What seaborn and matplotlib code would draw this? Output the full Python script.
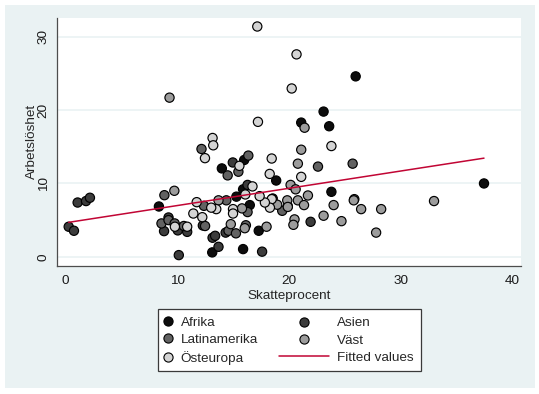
import matplotlib
matplotlib.use("Agg")
import matplotlib.pyplot as plt
from matplotlib.patches import Rectangle
from matplotlib.lines import Line2D
import seaborn as sns
import pandas as pd

# ---------------- data ----------------
afrika_x = [25.97, 23.1, 21.1, 23.6, 14.0, 18.86, 37.45, 15.9, 23.8, 18.55, 15.3, 16.5,
            8.37, 13.14, 15.9, 17.3, 19.9, 16.0]
afrika_y = [24.6, 19.8, 18.3, 17.8, 12.05, 10.4, 10.0, 9.2, 8.86, 7.95, 8.2, 7.05,
            6.86, 0.6, 1.05, 3.55, 6.9, 13.2]

asien_x = [0.3, 0.77, 1.1, 1.85, 2.2, 16.3, 21.94, 12.3, 9.23, 8.83, 10.06, 10.9,
           10.15, 13.17, 13.4, 13.7, 14.34, 17.6, 14.98]
asien_y = [4.1, 3.55, 7.4, 7.6, 8.05, 9.8, 4.77, 4.27, 5.36, 3.5, 3.6, 3.4,
           0.23, 2.6, 2.86, 1.36, 3.3, 0.7, 12.86]

latin_x = [12.18, 14.52, 15.48, 16.37, 22.6, 25.7, 25.85, 8.86, 19.4, 16.3, 14.4,
           12.4, 12.5, 8.6, 9.23, 9.78, 10.6, 14.6, 15.26, 16.15]
latin_y = [14.7, 11.1, 11.6, 13.8, 12.3, 12.7, 7.86, 8.4, 6.27, 6.1, 7.7,
           6.95, 4.2, 4.55, 5.0, 4.55, 4.2, 3.55, 3.2, 4.3]

vast_x = [9.32, 21.4, 21.1, 20.8, 20.15, 20.6, 9.75, 21.7, 20.8, 19.85, 21.35, 24.0,
          25.8, 26.46, 28.25, 32.98, 27.8, 24.7, 23.1, 20.5, 20.4, 18.95, 15.8, 13.7,
          14.8, 16.05, 18.0, 19.9]
vast_y = [21.7, 17.6, 14.6, 12.7, 9.8, 9.2, 9.0, 8.36, 7.7, 7.7, 7.05, 7.05,
          7.7, 6.5, 6.5, 7.6, 3.3, 4.86, 5.6, 5.1, 4.36, 7.1, 6.6, 7.7,
          4.45, 3.9, 4.1, 6.8]

ost_x = [17.17, 20.68, 20.25, 17.23, 13.17, 13.23, 23.8, 12.49, 18.46, 18.28, 21.1,
         16.74, 18.46, 18.3, 17.85, 17.38, 16.1, 15.57, 15.0, 15.0, 13.5, 13.05,
         11.75, 11.45, 12.25, 9.8, 10.9]
ost_y = [31.4, 27.6, 22.95, 18.4, 16.2, 15.2, 15.1, 13.45, 13.4, 11.3, 10.9,
         9.6, 7.86, 6.7, 7.4, 8.27, 8.5, 12.4, 6.5, 5.9, 6.5, 6.7,
         7.45, 5.9, 5.4, 4.1, 4.1]

regions = ["Afrika", "Asien", "Latinamerika", "Väst", "Östeuropa"]
region_colors = ["#0d0d0d", "#3c3c3c", "#626262", "#9c9c9c", "#d4d4d4"]

fit_x = [0.3, 37.45]
fit_y = [4.7, 13.45]
fit_label = "Fitted values"

x_ticks = [0, 10, 20, 30, 40]
y_ticks = [0, 10, 20, 30]
x_label = "Skatteprocent"
y_label = "Arbetslöshet"

# ---------------- build table ----------------
frames = []
for name, xs, ys in zip(regions,
                        [afrika_x, asien_x, latin_x, vast_x, ost_x],
                        [afrika_y, asien_y, latin_y, vast_y, ost_y]):
    frames.append(pd.DataFrame({"tax": xs, "unemp": ys, "region": name}))
df = pd.concat(frames, ignore_index=True)
fit_df = pd.DataFrame({"x": fit_x, "y": fit_y})
palette = dict(zip(regions, region_colors))

# ---------------- figure ----------------
sns.set_style("white")
plt.rcParams["font.family"] = ["Liberation Sans", "DejaVu Sans"]
FS = 9.7
W, H = 539, 394
fig = plt.figure(figsize=(W / 100, H / 100), dpi=100, facecolor="white")

# light blue-grey graph region
bg = Rectangle((5 / W, 1 - 388 / H), (535 - 5) / W, (388 - 5) / H,
               transform=fig.transFigure, facecolor="#eaf2f3",
               edgecolor="none", zorder=-5)
fig.patches.append(bg)

ax_l, ax_r, ax_t, ax_b = 57.4, 521.0, 17.7, 265.6
ax = fig.add_axes([ax_l / W, 1 - ax_b / H, (ax_r - ax_l) / W, (ax_b - ax_t) / H])
ax.set_zorder(2)
ax.set_facecolor("white")

for yv in y_ticks:
    ax.axhline(yv, color="#eaf2f3", lw=1.2, zorder=0)

sns.scatterplot(data=df, x="tax", y="unemp", hue="region", hue_order=regions,
                palette=palette, s=44, edgecolor="black", linewidth=0.85,
                legend=False, ax=ax, zorder=3)
sns.lineplot(data=fit_df, x="x", y="y", color="#c10534", lw=1.1, ax=ax, zorder=4)

ax.set_xlim(-0.71, 40.76)
ax.set_ylim(-1.2, 32.6)
ax.set_xticks(x_ticks)
ax.set_yticks(y_ticks)
ax.set_xticklabels([str(v) for v in x_ticks], fontsize=FS)
ax.set_yticklabels([str(v) for v in y_ticks], fontsize=FS, rotation=90, va="center")
ax.set_xlabel(x_label, fontsize=FS, labelpad=2)
ax.set_ylabel(y_label, fontsize=FS, labelpad=-0.5)

for side in ["top", "right"]:
    ax.spines[side].set_visible(False)
for side in ["left", "bottom"]:
    ax.spines[side].set_color("#4d4d4d")
    ax.spines[side].set_linewidth(0.9)
ax.tick_params(axis="both", direction="out", length=3.6, width=0.8, color="#4d4d4d",
               labelcolor="#1a1a1a", pad=3)
ax.tick_params(axis="y", pad=2)

# ---------------- legend ----------------
box = Rectangle((157.5 / W, 1 - 370.7 / H), (420.6 - 157.5) / W,
                (370.7 - 309) / H, transform=fig.transFigure,
                facecolor="white", edgecolor="#3a3a3a", lw=0.9, zorder=1)
fig.patches.append(box)


def mk(color):
    return Line2D([], [], ls="none", marker="o", markersize=6.6, markerfacecolor=color,
                  markeredgecolor="black", markeredgewidth=0.8)


col1 = [mk(palette["Afrika"]), mk(palette["Latinamerika"]), mk(palette["Östeuropa"])]
col2 = [mk(palette["Asien"]), mk(palette["Väst"]),
        Line2D([], [], color="#c10534", lw=1.1)]
ymid = 1 - 340.5 / H
leg1 = fig.legend(col1, ["Afrika", "Latinamerika", "Östeuropa"], loc="center left",
                  bbox_to_anchor=(162.7 / W, ymid), frameon=False, fontsize=FS,
                  handlelength=0.76, handletextpad=0.56, borderpad=0, borderaxespad=0,
                  labelspacing=0.37)
leg2 = fig.legend(col2, ["Asien", "Väst", fit_label], loc="center left",
                  bbox_to_anchor=(278.5 / W, ymid), frameon=False, fontsize=FS,
                  handlelength=3.78, handletextpad=0.56, borderpad=0, borderaxespad=0,
                  labelspacing=0.37)
leg1.set_zorder(5)
leg2.set_zorder(5)

fig.savefig("out.png", dpi=100, facecolor="white")
